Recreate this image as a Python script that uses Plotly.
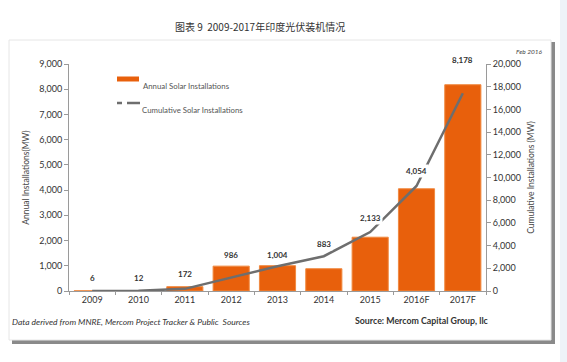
import plotly.graph_objects as go

years = ["2009", "2010", "2011", "2012", "2013", "2014", "2015", "2016F", "2017F"]
annual = [6, 12, 172, 986, 1004, 883, 2133, 4054, 8178]
cumulative = [0, 20, 190, 1176, 2180, 3063, 5196, 9250, 17428]
labels = ["6", "12", "172", "986", "1,004", "883", "2,133", "4,054", "8,178"]
label_shift = [9, 9, 9, 7, 7, 21, 15, 14, 21]

FONT = "Lato, Open Sans, sans-serif"
ORANGE = "#e8600c"
GRAY = "#6e6e6e"
AXC = "#9a9a9a"

L, R, T, B = 69, 486, 64, 291
PW, PH = R - L, B - T


def px(x):
    return (x - L) / PW


def py(y):
    return (B - y) / PH


fig = go.Figure()
fig.add_trace(go.Bar(
    x=years, y=annual, name="Annual Solar Installations",
    marker=dict(color=ORANGE, line=dict(color="#f08a40", width=1)),
    yaxis="y", showlegend=False,
))
fig.add_trace(go.Scatter(
    x=years, y=cumulative, name="Cumulative Solar Installations",
    mode="lines", line=dict(color=GRAY, width=2.5),
    yaxis="y2", showlegend=False,
))

for i, (v, t, s) in enumerate(zip(annual, labels, label_shift)):
    fig.add_annotation(x=i, y=v, xref="x", yref="y", text="<b>" + t + "</b>",
                       showarrow=False, yshift=s + 4, yanchor="middle",
                       font=dict(family=FONT, size=8, color="#333"),
                       bgcolor="white", borderpad=1)

fig.update_layout(
    width=567, height=362,
    margin=dict(l=L, r=567 - R, t=T, b=362 - B),
    paper_bgcolor="white", plot_bgcolor="white",
    bargap=0.22,
    showlegend=False,
    xaxis=dict(type="category", range=[-0.5, 8.5], showline=True, linecolor=AXC, linewidth=1,
               ticks="outside", tickson="boundaries", ticklen=3, tickcolor=AXC,
               automargin=False,
               tickfont=dict(family=FONT, size=9, color="#333"), showgrid=False),
    yaxis=dict(range=[0, 9000], dtick=1000, tickformat=",d", showline=True,
               linecolor=AXC, ticks="outside", ticklen=4, tickcolor=AXC, showgrid=False,
               zeroline=False, automargin=False,
               tickfont=dict(family=FONT, size=9, color="#333"),
               title=dict(text="Annual Installations(MW)", standoff=8,
                          font=dict(family=FONT, size=8.5, color="#444"))),
    yaxis2=dict(range=[0, 20000], dtick=2000, tickformat=",d", overlaying="y",
                side="right", showline=True, linecolor=AXC, ticks="outside",
                ticklen=4, tickcolor=AXC, showgrid=False, zeroline=False, automargin=False,
                tickfont=dict(family=FONT, size=9, color="#333"),
                title=dict(text="Cumulative Installations (MW)", standoff=8,
                           font=dict(family=FONT, size=8.5, color="#444"))),
    shapes=[
        dict(type="rect", xref="paper", yref="paper", x0=px(560), x1=px(567),
             y0=py(362), y1=py(0), fillcolor="#eef3f8", line=dict(width=0),
             layer="below"),
        dict(type="rect", xref="paper", yref="paper", x0=px(12), x1=px(555),
             y0=py(344), y1=py(42), fillcolor="#8a8a8a", line=dict(width=0),
             layer="below"),
        dict(type="rect", xref="paper", yref="paper", x0=px(9), x1=px(551),
             y0=py(340), y1=py(40), fillcolor="white",
             line=dict(color="#e6e6e6", width=1), layer="below"),
        # legend swatches
        dict(type="rect", xref="paper", yref="paper", x0=px(117), x1=px(139),
             y0=py(81.5), y1=py(76.5), fillcolor=ORANGE, line=dict(width=0)),
        dict(type="line", xref="paper", yref="paper", x0=px(117), x1=px(122),
             y0=py(103), y1=py(103), line=dict(color=GRAY, width=2.5)),
        dict(type="line", xref="paper", yref="paper", x0=px(127), x1=px(140),
             y0=py(103), y1=py(103), line=dict(color=GRAY, width=2.5)),
    ],
)

fig.add_annotation(xref="paper", yref="paper", x=px(141), y=py(79), xanchor="left",
                   text="Annual Solar Installations", showarrow=False,
                   font=dict(family=FONT, size=7.8, color="#555"))
fig.add_annotation(xref="paper", yref="paper", x=px(140), y=py(103), xanchor="left",
                   text="Cumulative Solar Installations", showarrow=False,
                   font=dict(family=FONT, size=7.8, color="#555"))
fig.add_annotation(xref="paper", yref="paper", x=px(260), y=py(17),
                   text="图表 9  2009-2017年印度光伏装机情况", showarrow=False,
                   font=dict(family="Noto Sans CJK SC", size=10, color="#333"))
fig.add_annotation(xref="paper", yref="paper", x=px(545), y=py(46),
                   xanchor="right", text="<i>Feb 2016</i>", showarrow=False,
                   font=dict(family=FONT, size=6.5, color="#444"))
fig.add_annotation(xref="paper", yref="paper", x=px(10), y=py(329),
                   xanchor="left", text="<i>Data derived from MNRE, Mercom Project Tracker &amp; Public  Sources</i>",
                   showarrow=False, font=dict(family=FONT, size=8.5, color="#333"))
fig.add_annotation(xref="paper", yref="paper", x=px(491), y=py(328),
                   xanchor="right", text="<b>Source: Mercom Capital Group, llc</b>",
                   showarrow=False, font=dict(family=FONT, size=8.8, color="#333"))

fig.write_html("out.html", config={"displayModeBar": False},
               post_script="document.body.style.margin='0';document.body.style.overflow='hidden';")
